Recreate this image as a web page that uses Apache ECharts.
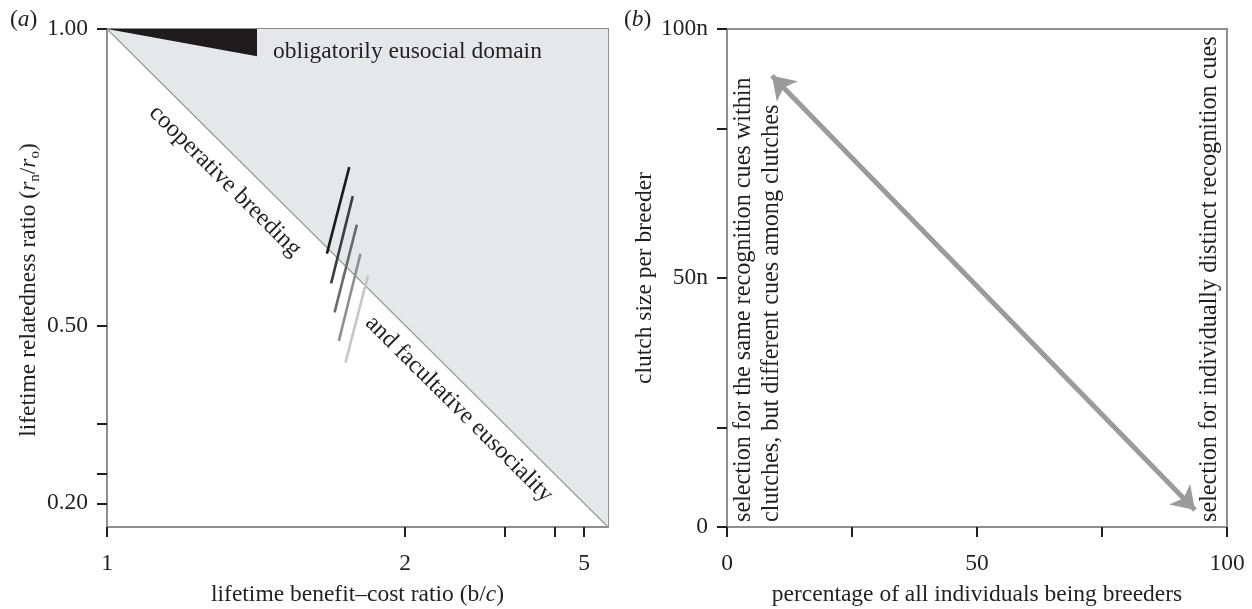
<!DOCTYPE html>
<html><head><meta charset="utf-8">
<script src="https://cdn.jsdelivr.net/npm/echarts@6/dist/echarts.min.js"></script>
<style>html,body{margin:0;padding:0;background:#fff}#c{width:1252px;height:609px}</style>
</head><body><div id="c"></div>
<script>
// ---------- Panel (a) data ----------
const bTicks = [1, 2, 3, 4, 5];
const bLabelTicks = [1, 2, 5];
const rTicks = [1.00, 0.50, 1 / 3, 0.25, 0.20];
const rLabelTicks = [1.00, 0.50, 0.20];
const bMax = 6.25;
const rMin = 0.16;
const boundaryB = [1, 6.25];
const boundaryR = [1, 0.16];
const obligateB = [1, 1.336, 1.336];
const obligateR = [1, 1, 0.954];
const segStartB = [1.684, 1.701, 1.721, 1.739, 1.778];
const segStartR = [0.767, 0.718, 0.670, 0.621, 0.584];
const segEndB = [1.584, 1.602, 1.617, 1.636, 1.666];
const segEndR = [0.621, 0.571, 0.522, 0.474, 0.437];
const segColors = ['#1c1c1c', '#3e3e3e', '#6a6a6a', '#8f8f8f', '#c6c6c6'];
// ---------- Panel (b) data ----------
const pctTicks = [0, 25, 50, 75, 100];
const pctLabelTicks = [0, 50, 100];
const clutchTicks = [0, 20, 50, 80, 100];
const clutchLabelTicks = [0, 50, 100];
const arrowPct = [9.0, 93.6];
const arrowClutch = [90.6, 3.4];

const FONT = "'Liberation Serif','Times New Roman',serif";
const INK = '#231f20';
const AXIS = '#8e8e8e';
const FS = 23.5;
const FA = 24.2;
const u = b => 1 - 1 / b;   // reciprocal scale of the benefit–cost axis

const chart = echarts.init(document.getElementById('c'), null, {renderer: 'canvas'});

function polygonSeries(pts, color, idx, z) {
  return {
    type: 'custom', xAxisIndex: idx, yAxisIndex: idx, silent: true, clip: true, z: z,
    data: pts, encode: {x: 0, y: 1},
    renderItem: (params, api) => {
      if (params.dataIndex !== 0) return null;
      return {type: 'polygon', shape: {points: pts.map(p => api.coord(p))}, style: {fill: color}};
    }
  };
}

const greyRegion = [
  [u(boundaryB[0]), boundaryR[0]],
  [u(boundaryB[1]), boundaryR[0]],
  [u(boundaryB[1]), boundaryR[1]]
];
const obligate = obligateB.map((b, i) => [u(b), obligateR[i]]);

const axisCommon = {
  axisLine: {show: true, lineStyle: {color: AXIS, width: 2}},
  splitLine: {show: false},
  nameTextStyle: {fontFamily: FONT, fontSize: FS, color: INK}
};
const tickStyle = {color: INK, width: 2};
const labelStyle = {fontFamily: FONT, fontSize: FS, color: INK};

function txt(x, y, text, rot, align, size) {
  return {type: 'text', x: x, y: y, rotation: rot, silent: true, z: 100,
    style: {text: text, fontFamily: FONT, fontSize: size, fill: INK,
      align: align, verticalAlign: 'middle', textAlign: align, textVerticalAlign: 'middle',
      rich: {i: {fontFamily: FONT, fontSize: size, fontStyle: 'italic', fill: INK}}}};
}

const option = {
  animation: false,
  backgroundColor: '#fff',
  grid: [
    {left: 107, top: 29, width: 501, height: 498, show: true, borderColor: AXIS, borderWidth: 2,
      backgroundColor: 'transparent', containLabel: false, outerBoundsMode: 'none'},
    {left: 727, top: 29, width: 500, height: 498, show: true, borderColor: AXIS, borderWidth: 2,
      backgroundColor: 'transparent', containLabel: false, outerBoundsMode: 'none'}
  ],
  xAxis: [
    Object.assign({}, axisCommon, {
      type: 'value', gridIndex: 0, min: 0, max: u(bMax),
      axisTick: {show: true, length: 10, lineStyle: tickStyle, customValues: bTicks.map(u)},
      axisLabel: Object.assign({}, labelStyle, {margin: 25, customValues: bLabelTicks.map(u),
        formatter: v => String(Math.round(1 / (1 - v)))}),
      name: 'lifetime benefit–cost ratio (b/{i|c})', nameLocation: 'middle', nameGap: 54,
      nameTextStyle: {fontFamily: FONT, fontSize: FS, color: INK, lineHeight: 28,
        rich: {i: {fontFamily: FONT, fontSize: FS, fontStyle: 'italic', color: INK, lineHeight: 28}}}
    }),
    Object.assign({}, axisCommon, {
      type: 'value', gridIndex: 1, min: 0, max: 100,
      axisTick: {show: true, length: 10, lineStyle: tickStyle, customValues: pctTicks},
      axisLabel: Object.assign({}, labelStyle, {margin: 25, customValues: pctLabelTicks}),
      name: 'percentage of all individuals being breeders', nameLocation: 'middle', nameGap: 56
    })
  ],
  yAxis: [
    Object.assign({}, axisCommon, {
      type: 'value', gridIndex: 0, min: rMin, max: 1,
      axisTick: {show: true, length: 10, lineStyle: tickStyle, customValues: rTicks},
      axisLabel: Object.assign({}, labelStyle, {margin: 19, customValues: rLabelTicks,
        formatter: v => v.toFixed(2)}),
      name: 'lifetime relatedness ratio ({i|r}{s|n}/{i|r}{s|o})', nameLocation: 'middle', nameGap: 64,
      nameTextStyle: {fontFamily: FONT, fontSize: FS, color: INK, lineHeight: 28, padding: [0, 24, 0, 0],
        rich: {
          i: {fontFamily: FONT, fontSize: FS, fontStyle: 'italic', color: INK, lineHeight: 28},
          s: {fontFamily: FONT, fontSize: 15, color: INK, lineHeight: 14, verticalAlign: 'bottom'}
        }}
    }),
    Object.assign({}, axisCommon, {
      type: 'value', gridIndex: 1, min: 0, max: 100,
      axisTick: {show: true, length: 10, lineStyle: tickStyle, customValues: clutchTicks},
      axisLabel: Object.assign({}, labelStyle, {margin: 19, customValues: clutchLabelTicks,
        formatter: v => (v === 0 ? '0' : v + 'n')}),
      name: 'clutch size per breeder', nameLocation: 'middle', nameGap: 63
    })
  ],
  series: [
    polygonSeries(greyRegion, '#e6e7e8', 0, 1),
    polygonSeries(obligate, '#1e1b1c', 0, 2),
    {
      type: 'line', xAxisIndex: 0, yAxisIndex: 0, silent: true, symbol: 'none', z: 3,
      data: boundaryB.map((b, i) => [u(b), boundaryR[i]]),
      lineStyle: {color: '#9a9a9a', width: 1.2}
    },
    {
      type: 'lines', coordinateSystem: 'cartesian2d', xAxisIndex: 0, yAxisIndex: 0, silent: true, z: 4,
      data: segStartB.map((b, i) => ({
        coords: [[u(b), segStartR[i]], [u(segEndB[i]), segEndR[i]]],
        lineStyle: {color: segColors[i], width: 2.6}
      })),
      lineStyle: {width: 2.6, opacity: 1, curveness: 0}
    },
    {
      type: 'lines', coordinateSystem: 'cartesian2d', xAxisIndex: 1, yAxisIndex: 1, silent: true,
      symbol: ['arrow', 'arrow'], symbolSize: 22,
      data: [{coords: [[arrowPct[0], arrowClutch[0]], [arrowPct[1], arrowClutch[1]]]}],
      lineStyle: {color: '#9b9b9b', width: 5, opacity: 1, curveness: 0}
    }
  ],
  graphic: [
    txt(10, 20, '({i|a})', 0, 'left', FS),
    txt(624, 20, '({i|b})', 0, 'left', FS),
    txt(273, 52, 'obligatorily eusocial domain', 0, 'left', FS),
    txt(225, 181, 'cooperative breeding', -0.782, 'center', FA),
    txt(459, 409, 'and facultative eusociality', -0.782, 'center', FA),
    txt(744, 522, 'selection for the same recognition cues within', Math.PI / 2, 'left', FA),
    txt(772, 522, 'clutches, but different cues among clutches', Math.PI / 2, 'left', FA),
    txt(1210, 522, 'selection for individually distinct recognition cues', Math.PI / 2, 'left', FA)
  ]
};
chart.setOption(option);
</script>
</body></html>
